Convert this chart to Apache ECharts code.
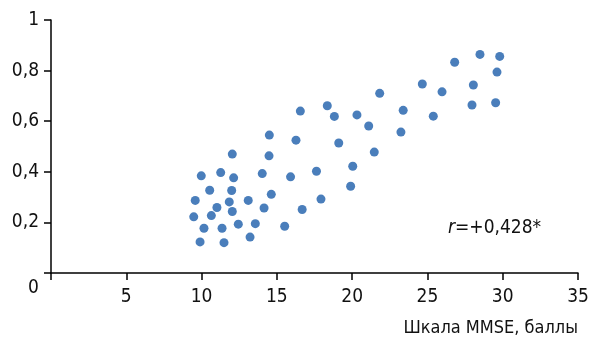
<!DOCTYPE html>
<html><head><meta charset="utf-8">
<script src="https://cdn.jsdelivr.net/npm/echarts@6/dist/echarts.min.js"></script>
<style>html,body{margin:0;padding:0;background:#fff}#c{width:593px;height:341px}</style>
</head><body><div id="c"></div>
<script>
const xTicks = [0, 5, 10, 15, 20, 25, 30, 35];
const yTicks = ['0', '0,2', '0,4', '0,6', '0,8', '1'];
const mmse = [9.48, 9.58, 9.98, 9.90, 10.16, 10.54, 10.65, 11.02, 11.27, 11.36, 11.49, 11.84, 12.00, 12.04, 12.13, 12.04, 12.44, 13.10, 13.22, 13.57, 14.03, 14.15, 14.50, 14.48, 14.63, 15.52, 15.91, 16.27, 16.56, 16.68, 17.63, 17.93, 18.35, 18.82, 19.11, 19.90, 20.04, 20.32, 21.10, 21.47, 21.83, 23.24, 23.39, 24.66, 25.39, 25.97, 26.81, 27.96, 28.05, 28.49, 29.62, 29.53, 29.80];
const value = [0.222, 0.287, 0.384, 0.123, 0.177, 0.327, 0.227, 0.259, 0.397, 0.177, 0.120, 0.281, 0.326, 0.470, 0.376, 0.243, 0.193, 0.287, 0.142, 0.195, 0.393, 0.257, 0.545, 0.463, 0.311, 0.185, 0.380, 0.525, 0.640, 0.251, 0.402, 0.292, 0.661, 0.619, 0.514, 0.343, 0.422, 0.625, 0.581, 0.478, 0.710, 0.557, 0.643, 0.747, 0.620, 0.716, 0.833, 0.664, 0.743, 0.864, 0.794, 0.673, 0.856];
const xTitle = 'Шкала MMSE, баллы';
const rText = ['r', '=+0,428*'];

const FONT = "'DejaVu Sans Condensed', 'Liberation Sans', Arial, sans-serif";
const chart = echarts.init(document.getElementById('c'), null, {renderer: 'canvas'});
chart.setOption({
  animation: false,
  backgroundColor: '#fff',
  grid: {left: 51, right: 15, top: 20, bottom: 68},
  xAxis: {
    type: 'value', min: 0, max: 35, interval: 5,
    axisLine: {show: true, lineStyle: {color: '#000', width: 1.5}},
    axisTick: {show: true, length: 7, lineStyle: {color: '#000', width: 1.5}},
    splitLine: {show: false},
    axisLabel: {
      show: true, margin: 15, color: '#111', fontSize: 19, fontFamily: FONT,
      formatter: v => (v === 0 ? '' : String(xTicks[xTicks.indexOf(v)]))
    },
    name: xTitle, nameLocation: 'end', nameGap: 0,
    nameTextStyle: {align: 'right', verticalAlign: 'top', padding: [46, 0, 0, 0], color: '#111', fontSize: 18, fontFamily: FONT}
  },
  yAxis: {
    type: 'value', min: 0, max: 1, interval: 0.2,
    axisLine: {show: true, lineStyle: {color: '#000', width: 1.5}},
    axisTick: {show: true, length: 7, lineStyle: {color: '#000', width: 1.5}},
    splitLine: {show: false},
    axisLabel: {
      show: true, margin: 12, color: '#111', fontSize: 19, fontFamily: FONT,
      formatter: v => { const i = Math.round(v * 5); return i === 0 ? '' : yTicks[i]; }
    }
  },
  graphic: [
    {type: 'text', left: 28, top: 279, style: {text: '0', fill: '#111', fontSize: 19, fontFamily: FONT}},
    {type: 'text', left: 448, top: 219, style: {
      text: '{i|' + rText[0] + '}' + rText[1], fill: '#111', fontSize: 19, fontFamily: FONT,
      rich: {i: {fontStyle: 'italic', fontSize: 19, fontFamily: FONT, fill: '#111'}}
    }}
  ],
  series: [{
    type: 'scatter', symbol: 'circle', symbolSize: 9,
    itemStyle: {color: '#4a7ebb', opacity: 1},
    data: mmse.map((x, i) => [x, value[i]])
  }]
});
</script></body></html>
